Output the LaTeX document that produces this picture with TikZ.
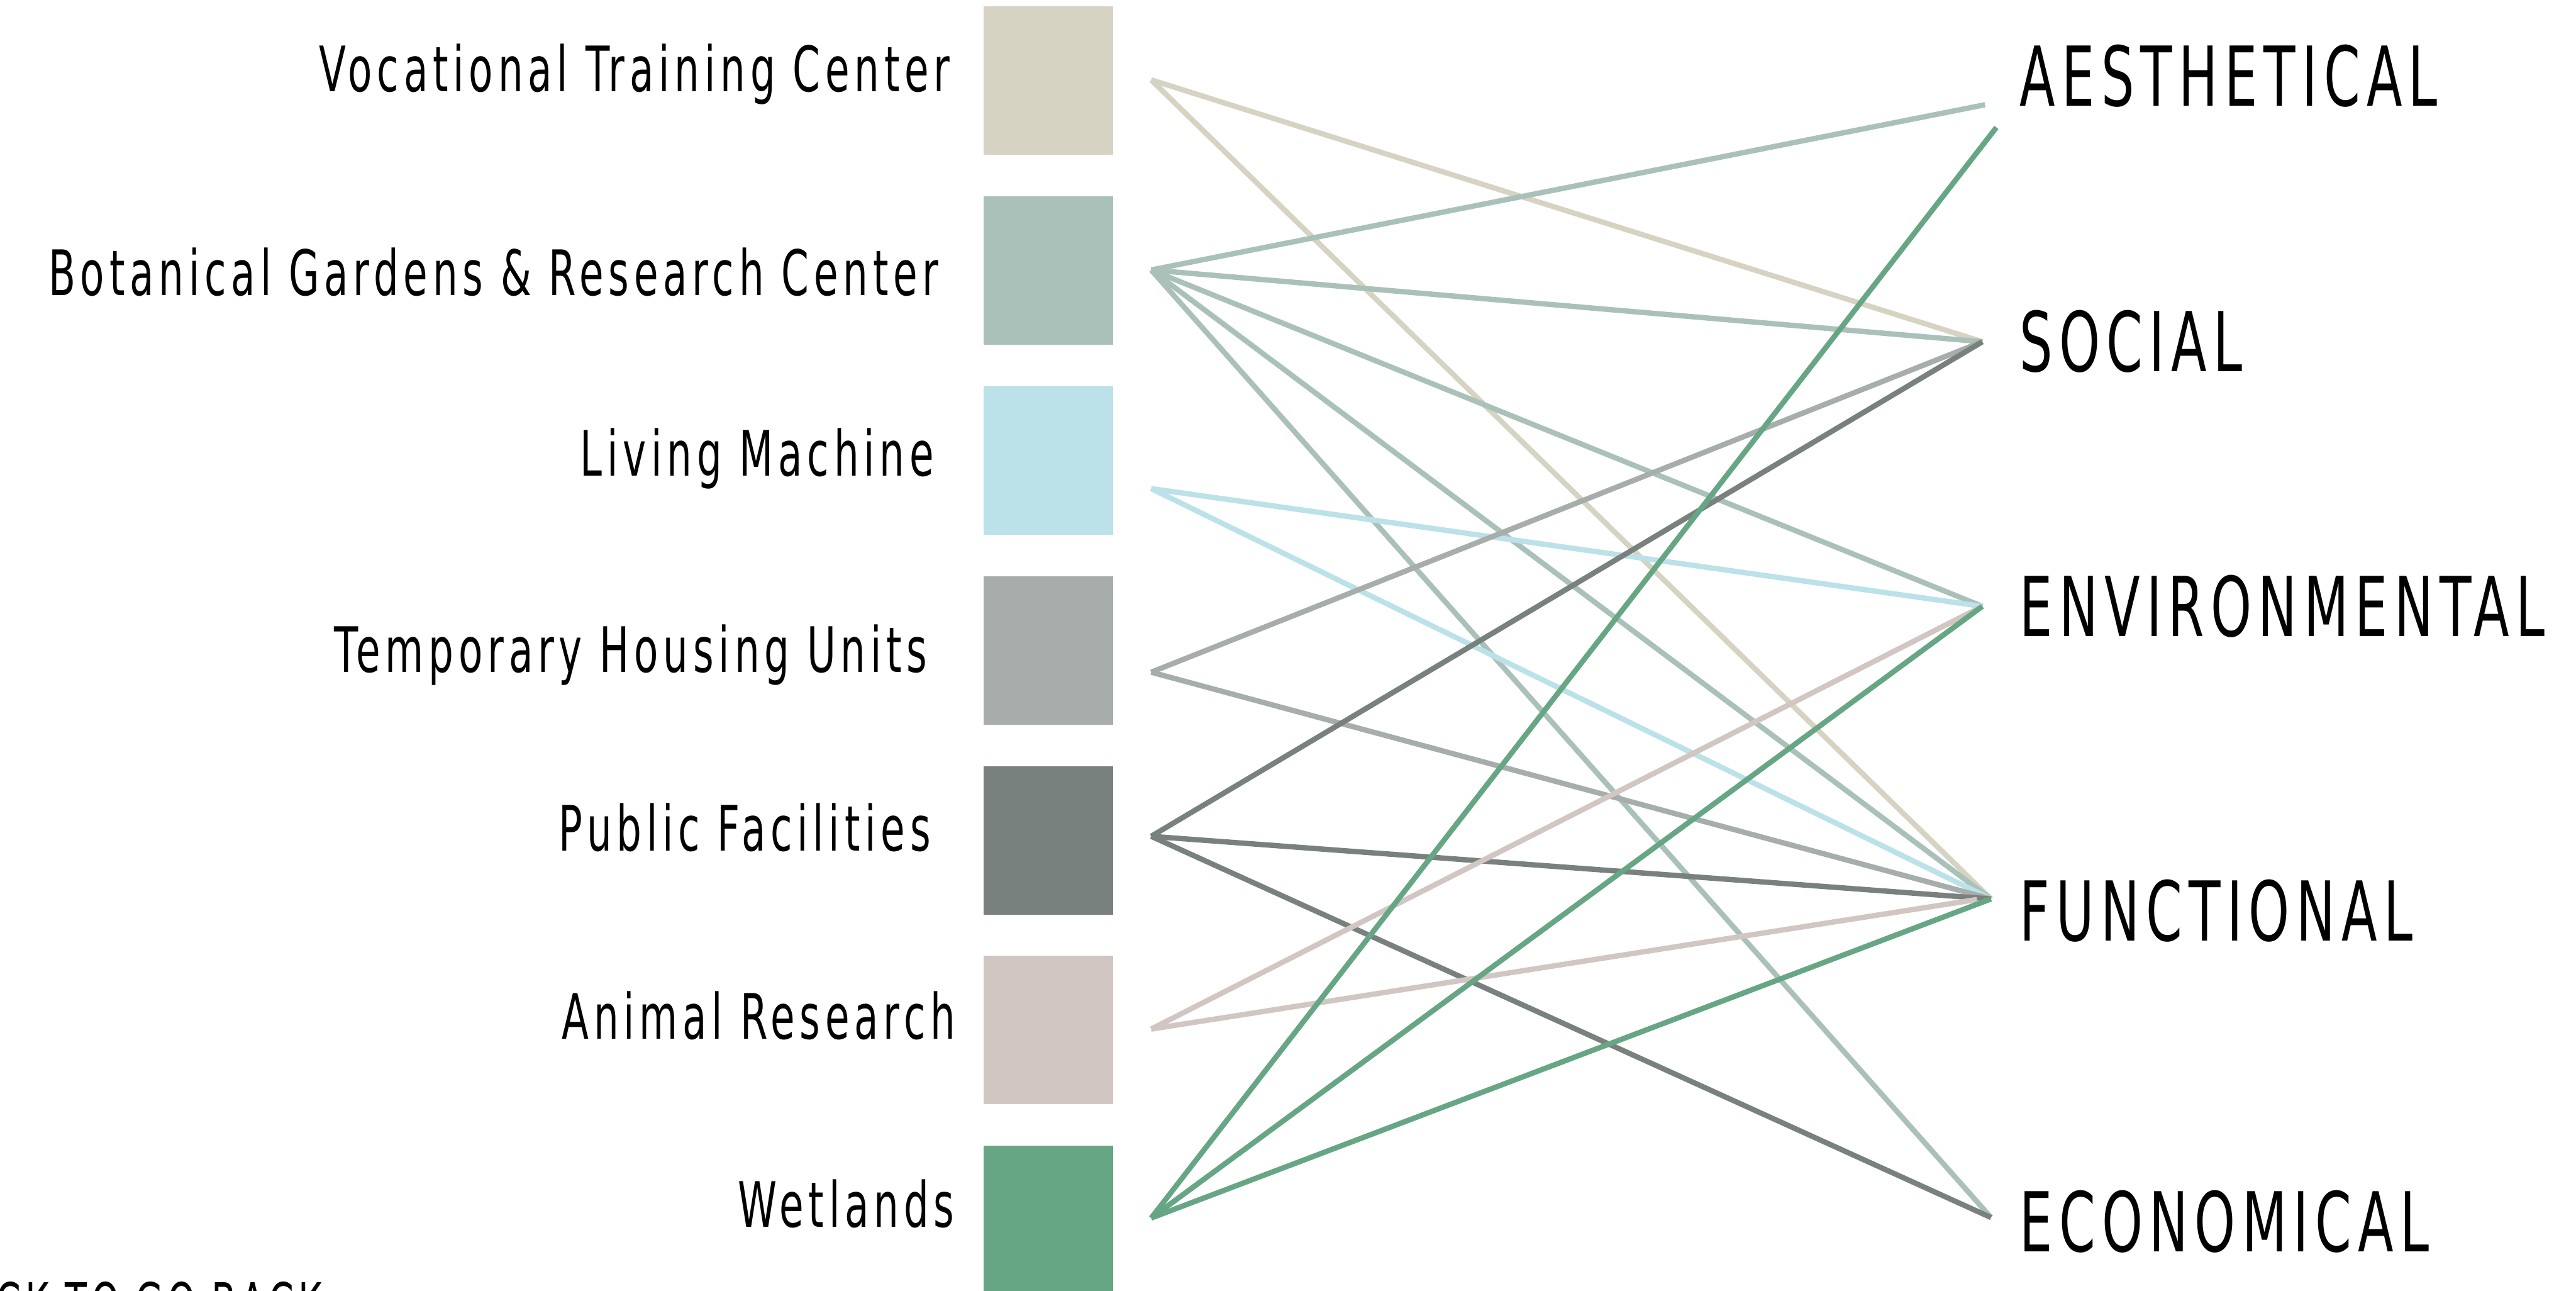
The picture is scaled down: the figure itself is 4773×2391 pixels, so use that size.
\documentclass[tikz,border=0pt]{standalone}
\usepackage{fontspec}
\newfontfamily\labelfont[FakeStretch=0.63,LetterSpace=7.8]{DejaVu Sans}
\usetikzlibrary{positioning}

\definecolor{vocational}{HTML}{D6D3C3}
\definecolor{botanical}{HTML}{AAC1B9}
\definecolor{living}{HTML}{BBE1E9}
\definecolor{housing}{HTML}{A7ADAA}
\definecolor{public}{HTML}{78817E}
\definecolor{animal}{HTML}{D1C6C2}
\definecolor{wetlands}{HTML}{66A684}

\begin{document}
\begin{tikzpicture}[x=0.01cm,y=-0.01cm,node distance=0.765cm,
                    link/.style={line width=2.8pt},
                    swatch/.style={rectangle,minimum width=2.4cm,minimum height=2.75cm,inner sep=0pt,outer sep=0pt},
                    uselabel/.style={font=\labelfont\fontsize{33}{40}\selectfont,anchor=base east,inner sep=0pt},
                    aimlabel/.style={font=\labelfont\fontsize{43.5}{52}\selectfont,anchor=base west,inner sep=0pt}]
	  \useasboundingbox (0,0) rectangle (4773,2391);

	  \node[swatch,fill=vocational]             (voc) at (1943,149.5) {};
	  \node[swatch,fill=botanical,below=of voc] (bot)                {};
	  \node[swatch,fill=living,below=of bot]    (liv)                {};
	  \node[swatch,fill=housing,below=of liv]   (hou)                {};
	  \node[swatch,fill=public,below=of hou]    (pub)                {};
	  \node[swatch,fill=animal,below=of pub]    (ani)                {};
	  \node[swatch,fill=wetlands,below=of ani]  (wet)                {};

	  \node[uselabel] (voc-t) at (1761,170)  {Vocational Training Center};
	  \node[uselabel] (bot-t) at (1740,547)  {Botanical Gardens \& Research Center};
	  \node[uselabel] (liv-t) at (1731,881)  {Living Machine};
	  \node[uselabel] (hou-t) at (1719,1245) {Temporary Housing Units};
	  \node[uselabel] (pub-t) at (1725,1576) {Public Facilities};
	  \node[uselabel] (ani-t) at (1771,1925) {Animal Research};
	  \node[uselabel] (wet-t) at (1769,2273) {Wetlands};

	  \node[aimlabel] (aes) at (3742,196)  {AESTHETICAL};
	  \node[aimlabel] (soc) at (3742,688)  {SOCIAL};
	  \node[aimlabel] (env) at (3742,1179) {ENVIRONMENTAL};
	  \node[aimlabel] (fun) at (3742,1743) {FUNCTIONAL};
	  \node[aimlabel] (eco) at (3742,2318) {ECONOMICAL};

	  \node[font=\labelfont\fontsize{30}{36}\selectfont,anchor=base west,inner sep=0pt] (back) at (-8,2452) {CK TO GO BACK};

	  \coordinate (voc-p) at (2133,148);
	  \coordinate (bot-p) at (2133,500);
	  \coordinate (liv-p) at (2133,905);
	  \coordinate (hou-p) at (2133,1245);
	  \coordinate (pub-p) at (2133,1549);
	  \coordinate (ani-p) at (2133,1906);
	  \coordinate (wet-p) at (2133,2256);

	  \coordinate (aes-p) at (3678,194);
	  \coordinate (aes-q) at (3699,236);
	  \coordinate (soc-p) at (3673,633);
	  \coordinate (env-p) at (3673,1123);
	  \coordinate (fun-p) at (3689,1665);
	  \coordinate (fun-q) at (3663,1666);
	  \coordinate (eco-p) at (3689,2255);

	  \path[link,draw=vocational] (voc-p) edge (soc-p) edge (fun-p);
	  \path[link,draw=botanical]  (bot-p) edge (aes-p) edge (soc-p) edge (env-p) edge (fun-p) edge (eco-p);
	  \path[link,draw=living]     (liv-p) edge (env-p) edge (fun-p);
	  \path[link,draw=housing]    (hou-p) edge (soc-p) edge (fun-p);
	  \path[link,draw=public]     (pub-p) edge (soc-p) edge (fun-p) edge (eco-p);
	  \path[link,draw=animal]     (ani-p) edge (env-p) edge (fun-q);
	  \path[link,draw=wetlands]   (wet-p) edge (aes-q) edge (env-p) edge (fun-p);
	\end{tikzpicture}
\end{document}
